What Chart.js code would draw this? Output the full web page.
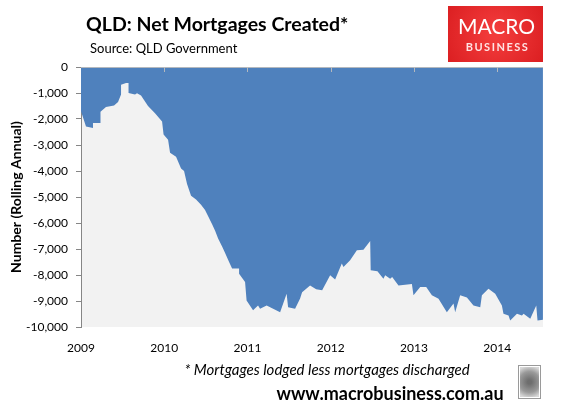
<!DOCTYPE html>
<html>
<head>
<meta charset="utf-8">
<script src="https://cdn.jsdelivr.net/npm/chart.js@4.4.1/dist/chart.umd.min.js"></script>
<style>
  html, body { margin: 0; padding: 0; background: #fff; }
  #wrap { position: relative; width: 562px; height: 406px; }
</style>
</head>
<body>
<div id="wrap"><canvas id="chart" width="562" height="406"></canvas></div>
<script>
'use strict';

// time as decimal years, values = net mortgages (rolling annual)
const years = [
  2009.000, 2009.060, 2009.144, 2009.144, 2009.234, 2009.234, 2009.300, 2009.397, 2009.445, 2009.481,
  2009.481, 2009.541, 2009.571, 2009.571, 2009.649, 2009.673, 2009.721, 2009.805, 2009.889, 2009.974,
  2009.992, 2010.046, 2010.070, 2010.142, 2010.202, 2010.238, 2010.274, 2010.322, 2010.382, 2010.442,
  2010.490, 2010.514, 2010.575, 2010.611, 2010.647, 2010.695, 2010.731, 2010.779, 2010.815, 2010.899,
  2010.899, 2010.971, 2010.989, 2011.067, 2011.127, 2011.151, 2011.230, 2011.392, 2011.470, 2011.488,
  2011.572, 2011.632, 2011.656, 2011.752, 2011.825, 2011.897, 2011.993, 2012.053, 2012.133, 2012.153,
  2012.233, 2012.314, 2012.393, 2012.474, 2012.480, 2012.561, 2012.633, 2012.654, 2012.714, 2012.738,
  2012.814, 2012.975, 2012.994, 2013.075, 2013.147, 2013.215, 2013.295, 2013.395, 2013.475, 2013.495,
  2013.555, 2013.636, 2013.715, 2013.796, 2013.816, 2013.895, 2013.976, 2014.056, 2014.075, 2014.136,
  2014.156, 2014.237, 2014.297, 2014.317, 2014.397, 2014.469, 2014.484, 2014.549
];
const netMortgages = [
  -1700, -2290, -2350, -2150, -2150, -1720, -1540, -1480, -1350, -1060,
  -680, -620, -620, -1000, -1060, -1010, -1100, -1500, -1780, -2100,
  -2600, -2800, -3300, -3450, -3900, -4000, -4500, -4950, -5100, -5300,
  -5500, -5650, -6050, -6300, -6600, -6900, -7150, -7500, -7750, -7750,
  -7950, -8270, -8980, -9360, -9170, -9300, -9170, -9430, -8720, -9240,
  -9300, -8900, -8660, -8400, -8550, -8590, -8010, -8170, -7560, -7690,
  -7430, -7050, -7030, -6690, -7820, -7860, -8140, -8010, -8140, -8080,
  -8400, -8350, -8780, -8460, -8460, -8780, -8910, -9430, -9100, -9430,
  -8780, -8870, -9170, -9240, -8780, -8530, -8720, -9170, -9490, -9560,
  -9750, -9490, -9560, -9490, -9680, -9170, -9750, -9720
];
const xStart = 2009;
const xEnd = 2014.55;
const yMin = -10000;
const yMax = 0;

const FONT = "Lato, 'Liberation Sans', sans-serif";

// 背景・見出し・ロゴなど
const decorPlugin = {
  id: 'decor',
  beforeDraw(chart) {
    const ctx = chart.ctx;
    const a = chart.chartArea;
    ctx.save();
    ctx.fillStyle = '#ffffff';
    ctx.fillRect(0, 0, chart.width, chart.height);
    ctx.fillStyle = '#f2f2f2';
    ctx.fillRect(a.left, a.top, a.right - a.left, a.bottom - a.top);
    ctx.restore();
  },
  afterDatasetsDraw(chart) {
    const ctx = chart.ctx;
    const a = chart.chartArea;
    const xs = chart.scales.x;
    const y0 = chart.scales.y.getPixelForValue(0);
    ctx.save();
    // axis line at zero with small ticks
    ctx.strokeStyle = 'rgba(190,190,190,0.9)';
    ctx.lineWidth = 1;
    ctx.beginPath();
    ctx.moveTo(a.left, y0 + 0.5);
    ctx.lineTo(a.right, y0 + 0.5);
    for (let yr = 2010; yr <= 2014; yr++) {
      const px = Math.round(xs.getPixelForValue(yr)) + 0.5;
      ctx.moveTo(px, y0);
      ctx.lineTo(px, y0 + 5);
    }
    ctx.stroke();
    ctx.restore();
  },
  afterDraw(chart) {
    const ctx = chart.ctx;
    ctx.save();
    ctx.textBaseline = 'alphabetic';
    ctx.fillStyle = '#000';
    ctx.textAlign = 'left';
    ctx.font = 'bold 19.5px ' + FONT;
    ctx.fillText('QLD: Net Mortgages Created*', 86, 31);
    ctx.font = '13px ' + FONT;
    ctx.fillText('Source: QLD Government', 90, 53);

    ctx.textAlign = 'center';
    ctx.font = 'italic 15px ' + FONT;
    ctx.fillText('* Mortgages lodged less mortgages discharged', 327, 375);
    ctx.font = 'bold 18px ' + FONT;
    ctx.fillText('www.macrobusiness.com.au', 390, 400);

    // logo
    const lx = 448, ly = 6, lw = 95, lh = 56;
    const g = ctx.createRadialGradient(lx + lw / 2, ly + lh / 2, 5, lx + lw / 2, ly + lh / 2, 60);
    g.addColorStop(0, '#f23b3b');
    g.addColorStop(1, '#d91c1f');
    ctx.fillStyle = g;
    ctx.fillRect(lx, ly, lw, lh);
    ctx.fillStyle = '#ffffff';
    ctx.font = '21px ' + FONT;
    ctx.fillText('MACRO', lx + lw / 2 + 1, ly + 28);
    ctx.fillStyle = '#ffe4e4';
    ctx.font = 'bold 11px ' + FONT;
    if ('letterSpacing' in ctx) ctx.letterSpacing = '1.5px';
    ctx.fillText('BUSINESS', lx + lw / 2 + 2, ly + 45);
    if ('letterSpacing' in ctx) ctx.letterSpacing = '0px';

    // wolf picture placeholder
    const wx = 518, wy = 365, ww = 23, wh = 34;
    ctx.fillStyle = '#ffffff';
    ctx.fillRect(wx, wy, ww, wh);
    const wg = ctx.createRadialGradient(wx + ww / 2, wy + wh / 2, 2, wx + ww / 2, wy + wh / 2, 16);
    wg.addColorStop(0, '#6e6e6e');
    wg.addColorStop(0.6, '#9a9a9a');
    wg.addColorStop(1, '#d8d8d8');
    ctx.fillStyle = wg;
    ctx.fillRect(wx + 2, wy + 2, ww - 4, wh - 4);
    ctx.strokeStyle = '#9a9a9a';
    ctx.strokeRect(wx + 0.5, wy + 0.5, ww - 1, wh - 1);
    ctx.restore();
  }
};

const ctx = document.getElementById('chart').getContext('2d');
new Chart(ctx, {
  type: 'line',
  data: {
    datasets: [{
      label: 'Net mortgages created',
      data: years.map((yr, i) => ({ x: yr, y: netMortgages[i] })),
      backgroundColor: '#4f81bd',
      borderColor: '#4f81bd',
      borderWidth: 0,
      pointRadius: 0,
      tension: 0,
      fill: 'origin'
    }]
  },
  options: {
    responsive: false,
    animation: false,
    layout: { padding: { left: 0, right: 19, top: 67, bottom: 49 } },
    plugins: {
      legend: { display: false },
      tooltip: { enabled: false }
    },
    scales: {
      x: {
        type: 'linear',
        min: xStart,
        max: xEnd,
        border: { display: false },
        grid: { display: false },
        ticks: {
          stepSize: 1,
          includeBounds: false,
          color: '#000',
          font: { family: FONT, size: 12 },
          padding: 6,
          maxRotation: 0,
          callback: v => Number.isInteger(v) ? String(v) : ''
        },
        afterFit: s => { s.height = 30; }
      },
      y: {
        min: yMin,
        max: yMax,
        border: { color: '#868686' },
        grid: { drawOnChartArea: false, color: '#868686', tickLength: 5 },
        ticks: {
          stepSize: 1000,
          color: '#000',
          font: { family: FONT, size: 12 },
          padding: 8,
          callback: v => v.toLocaleString('en-US')
        },
        title: {
          display: true,
          text: 'Number (Rolling Annual)',
          color: '#000',
          font: { family: FONT, size: 14, weight: 'bold' },
          padding: { top: 8, bottom: 2 }
        },
        afterFit: s => { s.width = 81; }
      }
    }
  },
  plugins: [decorPlugin]
});
</script>
</body>
</html>
